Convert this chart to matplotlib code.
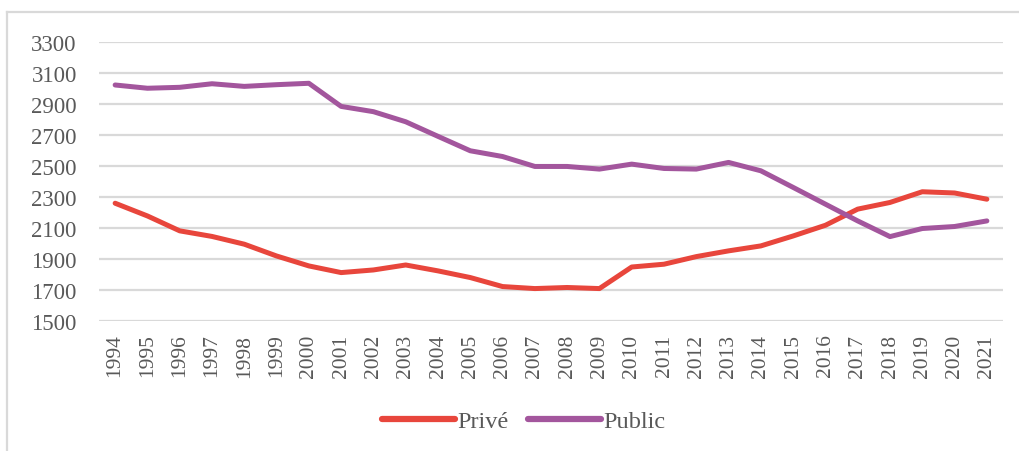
import matplotlib.pyplot as plt
from matplotlib.lines import Line2D

years = [str(y) for y in range(1994, 2022)]
prive = [2259, 2177, 2081, 2045, 1995, 1919, 1855, 1812, 1829, 1861, 1823, 1780, 1722, 1709,
         1716, 1709, 1848, 1866, 1915, 1952, 1984, 2048, 2117, 2221, 2264, 2333, 2325, 2285]
public = [3021, 3000, 3006, 3029, 3012, 3023, 3032, 2883, 2849, 2784, 2690, 2597, 2560, 2496,
          2496, 2479, 2511, 2483, 2479, 2522, 2468, 2361, 2253, 2145, 2044, 2096, 2109, 2145]
yticks = list(range(1500, 3301, 200))

red = '#e8463c'
purple = '#a3569d'
grid = '#d9d9d9'
txt = '#595959'

plt.rcParams['font.family'] = ['Liberation Serif', 'DejaVu Serif']

fig = plt.figure(figsize=(10.19, 4.52), dpi=100)
ax = fig.add_axes([99/1019, 1 - 322/452, (1003 - 99)/1019, (322 - 42.7)/452])

x = list(range(len(years)))
ax.plot(x, prive, color=red, lw=3.6, solid_capstyle='round', label='Privé', zorder=3)
ax.plot(x, public, color=purple, lw=3.6, solid_capstyle='round', label='Public', zorder=3)

ax.set_xlim(-0.5, len(years) - 0.5)
ax.set_ylim(1500, 3300)
ax.set_yticks(yticks)
ax.set_yticklabels([str(v) for v in yticks], fontsize=16.5, color=txt)
ax.set_xticks(x)
ax.set_xticklabels(years, rotation=90, fontsize=15.5, color=txt)
ax.tick_params(axis='y', length=0, pad=16)
ax.tick_params(axis='x', length=0, pad=9)
ax.grid(axis='y', color=grid, lw=1.6, zorder=0)
for s in ax.spines.values():
    s.set_visible(False)

handles = [Line2D([0], [0], color=red, lw=4.5, solid_capstyle='round'),
           Line2D([0], [0], color=purple, lw=4.5, solid_capstyle='round')]
fig.legend(handles, ['Privé', 'Public'], loc='center', bbox_to_anchor=(524/1019, 1 - 422/452),
           ncol=2, frameon=False, fontsize=17.5, handlelength=3.0, handletextpad=0.1,
           columnspacing=0.8, labelcolor=txt)

# outer frame (top and left edges visible)
fig.add_artist(Line2D([7/1019, 1], [1 - 13/452, 1 - 13/452], color=grid, lw=1.6))
fig.add_artist(Line2D([7/1019, 7/1019], [0, 1 - 13/452], color=grid, lw=1.6))

fig.savefig('out.png', dpi=100)
